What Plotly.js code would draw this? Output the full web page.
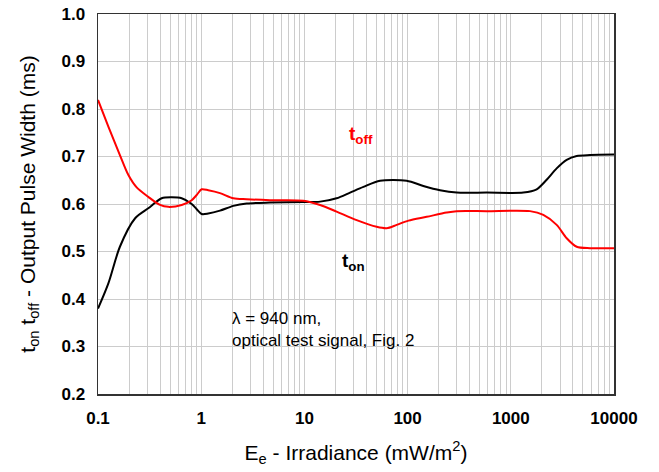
<!DOCTYPE html>
<html>
<head>
<meta charset="utf-8">
<script src="https://cdn.plot.ly/plotly-3.0.1.min.js"></script>
<style>html,body{margin:0;padding:0;background:#fff;}#chart{width:659px;height:472px;}</style>
</head>
<body>
<div id="chart"></div>
<script>
// Irradiance (mW/m^2) and pulse widths (ms)
const tonIrr = [0.1, 0.126, 0.163, 0.229, 0.307, 0.414, 0.518, 0.647, 0.809, 0.904, 1.01, 1.17, 1.52, 2.05, 2.76, 4.64, 9.75, 14.2, 20.5, 27.7, 37.3, 54.1, 98, 142, 206, 299, 584, 1322, 1781, 2226, 2783, 3480, 4350, 5850, 10000];
const tonVal = [0.380, 0.433, 0.510, 0.570, 0.591, 0.612, 0.614, 0.612, 0.600, 0.589, 0.579, 0.580, 0.586, 0.596, 0.601, 0.603, 0.604, 0.605, 0.612, 0.624, 0.636, 0.649, 0.649, 0.638, 0.629, 0.624, 0.624, 0.624, 0.631, 0.651, 0.675, 0.693, 0.701, 0.703, 0.704];

const toffIrr = [0.1, 0.126, 0.163, 0.197, 0.237, 0.307, 0.399, 0.480, 0.647, 0.809, 0.904, 1.01, 1.17, 1.52, 2.05, 2.76, 4.64, 9.75, 14.2, 20.5, 32.1, 50.2, 62.7, 78.3, 102, 153, 239, 299, 584, 1535, 2066, 2783, 3480, 4350, 5850, 10000];
const toffVal = [0.819, 0.763, 0.703, 0.661, 0.635, 0.615, 0.598, 0.594, 0.598, 0.608, 0.619, 0.631, 0.629, 0.623, 0.612, 0.610, 0.608, 0.607, 0.598, 0.584, 0.566, 0.552, 0.549, 0.556, 0.565, 0.573, 0.582, 0.585, 0.585, 0.585, 0.577, 0.556, 0.528, 0.510, 0.507, 0.507];

const xTicks = [0.1, 1, 10, 100, 1000, 10000];
const xTickText = ['0.1', '1', '10', '100', '1000', '10000'];
const yTicks = [0.2, 0.3, 0.4, 0.5, 0.6, 0.7, 0.8, 0.9, 1.0];
const yTickText = ['0.2', '0.3', '0.4', '0.5', '0.6', '0.7', '0.8', '0.9', '1.0'];

const FONT = 'Liberation Sans, Arial, sans-serif';
const GRID = '#cccccc';

const traces = [
  {x: tonIrr, y: tonVal, mode: 'lines', line: {color: '#000000', width: 2, shape: 'spline', smoothing: 0.8}, hoverinfo: 'skip'},
  {x: toffIrr, y: toffVal, mode: 'lines', line: {color: '#ff0000', width: 2, shape: 'spline', smoothing: 0.8}, hoverinfo: 'skip'}
];

const layout = {
  width: 659, height: 472,
  margin: {l: 98, r: 45, t: 14, b: 78},
  paper_bgcolor: '#ffffff', plot_bgcolor: '#ffffff',
  showlegend: false,
  font: {family: FONT, color: '#000'},
  xaxis: {
    type: 'log', range: [-1, 4],
    tickvals: xTicks, ticktext: xTickText,
    tickfont: {family: FONT, size: 17, color: '#000', weight: 'bold'},
    ticklabelstandoff: 8,
    showgrid: true, gridcolor: GRID, gridwidth: 1,
    minor: {showgrid: true, gridcolor: GRID, gridwidth: 1, dtick: 'D1'},
    showline: true, linecolor: '#333', linewidth: 1.5, mirror: true,
    ticks: '', zeroline: false,
    title: {text: 'E<sub>e</sub> - Irradiance (mW/m<sup>2</sup>)', font: {family: FONT, size: 21, color: '#000'}, standoff: 18}
  },
  yaxis: {
    range: [0.2, 1.0],
    tickvals: yTicks, ticktext: yTickText,
    tickfont: {family: FONT, size: 17, color: '#000', weight: 'bold'},
    ticklabelstandoff: 8,
    showgrid: true, gridcolor: GRID, gridwidth: 1,
    showline: true, linecolor: '#333', linewidth: 1.5, mirror: true,
    ticks: '', zeroline: false,
    title: {text: 't<sub>on</sub> t<sub>off</sub> - Output Pulse Width (ms)', font: {family: FONT, size: 21, color: '#000'}, standoff: 20}
  },
  annotations: [
    {x: Math.log10(25.9), y: 0.745, xref: 'x', yref: 'y', text: '<b>t<sub>off</sub></b>', showarrow: false,
     font: {family: FONT, size: 19, color: '#ff0000'}, xanchor: 'left', yanchor: 'middle'},
    {x: Math.log10(22), y: 0.478, xref: 'x', yref: 'y', text: '<b>t<sub>on</sub></b>', showarrow: false,
     font: {family: FONT, size: 19, color: '#000'}, xanchor: 'left', yanchor: 'middle'},
    {x: Math.log10(1.9), y: 0.360, xref: 'x', yref: 'y', text: 'λ = 940 nm,', showarrow: false,
     font: {family: FONT, size: 17, color: '#000'}, xanchor: 'left', yanchor: 'middle'},
    {x: Math.log10(1.9), y: 0.312, xref: 'x', yref: 'y', text: 'optical test signal, Fig. 2', showarrow: false,
     font: {family: FONT, size: 17, color: '#000'}, xanchor: 'left', yanchor: 'middle'}
  ]
};

Plotly.newPlot('chart', traces, layout, {staticPlot: true, displayModeBar: false});
</script>
</body>
</html>
